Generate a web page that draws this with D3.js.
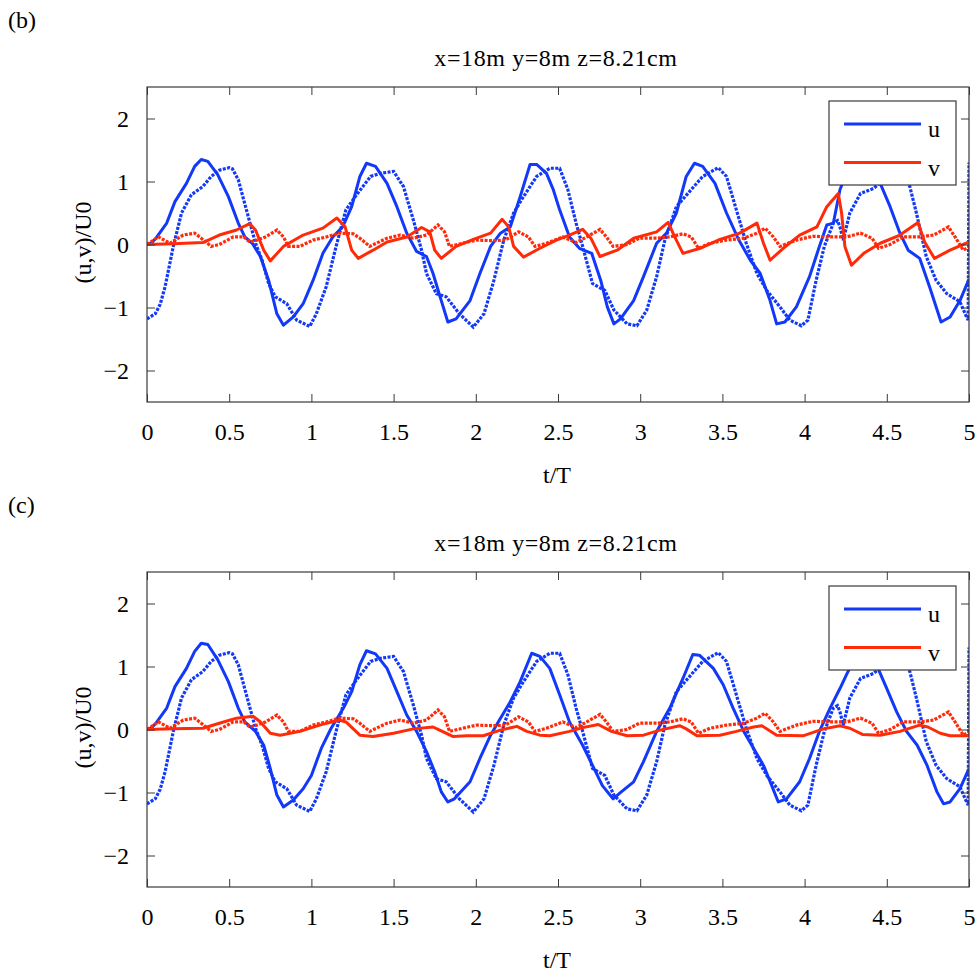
<!DOCTYPE html>
<html>
<head>
<meta charset="utf-8">
<script src="https://cdn.jsdelivr.net/npm/d3@7"></script>
<style>
  body { margin: 0; background: #fff; }
  svg { display: block; }
  text { font-family: "Liberation Serif", "Times New Roman", serif; fill: #000; }
</style>
</head>
<body>
<svg id="chart" width="977" height="972"></svg>
<script>
// ---------- data ----------
const panelLabels = ["(b)", "(c)"];
const panelTitles = ["x=18m y=8m z=8.21cm", "x=18m y=8m z=8.21cm"];
const xTicks = [0, 0.5, 1, 1.5, 2, 2.5, 3, 3.5, 4, 4.5, 5];
const xTickLabels = ["0", "0.5", "1", "1.5", "2", "2.5", "3", "3.5", "4", "4.5", "5"];
const yTicks = [-2, -1, 0, 1, 2];
const xLabel = "t/T";
const yLabel = "(u,v)/U0";
const legendNames = ["u", "v"];

// measured u (dotted, same in both panels) [t/T, u/U0]
const uMeasured = [[0,-1.18],[0.05,-1.10],[0.08,-0.95],[0.11,-0.67],[0.16,-0.03],[0.21,0.5],[0.27,0.79],[0.34,0.92],[0.39,1.08],[0.44,1.18],[0.5,1.22],[0.52,1.2],[0.555,1.03],[0.61,0.5],[0.66,0.02],[0.70,-0.25],[0.74,-0.62],[0.78,-0.83],[0.85,-0.94],[0.91,-1.2],[0.99,-1.30],[1.03,-1.10],[1.09,-0.67],[1.15,-0.03],[1.21,0.55],[1.275,0.79],[1.36,1.08],[1.42,1.13],[1.50,1.16],[1.56,0.92],[1.62,0.39],[1.67,-0.09],[1.70,-0.46],[1.76,-0.78],[1.82,-0.83],[1.90,-1.10],[1.985,-1.31],[2.05,-1.10],[2.11,-0.57],[2.17,0.07],[2.23,0.5],[2.29,0.76],[2.37,1.08],[2.45,1.21],[2.51,1.21],[2.56,0.87],[2.61,0.34],[2.65,-0.03],[2.71,-0.62],[2.785,-0.73],[2.84,-1.04],[2.92,-1.26],[2.98,-1.29],[3.04,-1.04],[3.10,-0.51],[3.15,0.07],[3.22,0.60],[3.30,0.84],[3.38,1.08],[3.475,1.22],[3.525,1.08],[3.585,0.55],[3.645,0.02],[3.71,-0.46],[3.77,-0.73],[3.85,-0.99],[3.91,-1.20],[3.98,-1.29],[4.02,-1.20],[4.07,-0.57],[4.12,-0.03],[4.175,0.34],[4.2,0.38],[4.215,0.28],[4.235,0.07],[4.275,0.5],[4.34,0.81],[4.42,0.89],[4.48,1.03],[4.55,1.18],[4.6,1.1],[4.64,0.92],[4.68,0.50],[4.74,-0.19],[4.80,-0.57],[4.865,-0.78],[4.945,-0.91],[4.985,-1.15],[4.995,-1.2],[5.0,1.3]];

// measured v (dotted, same in both panels)
const vMeasured = [[0,0],[0.07,0.12],[0.14,0.02],[0.22,0.15],[0.29,0.18],[0.33,0.10],[0.39,-0.03],[0.44,0],[0.525,0.12],[0.59,0.12],[0.625,0.04],[0.67,0.07],[0.72,0.12],[0.79,0.23],[0.83,0.12],[0.86,-0.03],[0.93,-0.03],[1.01,0.07],[1.09,0.12],[1.17,0.18],[1.255,0.17],[1.295,0.10],[1.355,-0.03],[1.46,0.10],[1.54,0.15],[1.62,0.10],[1.70,0.15],[1.77,0.31],[1.81,0.20],[1.84,-0.03],[1.92,0.02],[2.005,0.07],[2.105,0.06],[2.18,0.07],[2.26,0.20],[2.32,0.12],[2.36,-0.03],[2.43,0.02],[2.53,0.12],[2.61,0.03],[2.675,0.12],[2.755,0.24],[2.795,0.12],[2.835,-0.03],[2.92,0],[2.995,0.10],[3.10,0.10],[3.18,0.12],[3.26,0.17],[3.31,0.12],[3.355,-0.06],[3.425,0.02],[3.525,0.07],[3.63,0.10],[3.71,0.18],[3.76,0.26],[3.81,0.12],[3.85,-0.03],[3.95,0.07],[4.05,0.13],[4.155,0.12],[4.255,0.12],[4.34,0.18],[4.41,0.10],[4.45,-0.06],[4.52,0],[4.60,0.12],[4.70,0.12],[4.785,0.15],[4.875,0.28],[4.915,0.12],[4.965,-0.09],[5.0,-0.04]];

// model u, panel (b)
const uModelB = [[0,0],[0.03,0.03],[0.06,0.12],[0.12,0.34],[0.17,0.68],[0.24,0.97],[0.29,1.24],[0.33,1.35],[0.37,1.32],[0.43,1.11],[0.495,0.76],[0.555,0.34],[0.595,0.12],[0.64,0.02],[0.69,-0.19],[0.74,-0.57],[0.79,-1.10],[0.83,-1.28],[0.89,-1.15],[0.95,-0.94],[1.01,-0.57],[1.07,-0.14],[1.13,0.12],[1.19,0.28],[1.245,0.60],[1.295,1.08],[1.335,1.29],[1.39,1.24],[1.46,0.97],[1.52,0.60],[1.58,0.18],[1.64,-0.11],[1.70,-0.19],[1.74,-0.46],[1.79,-0.89],[1.83,-1.23],[1.88,-1.18],[1.965,-0.89],[2.025,-0.46],[2.09,-0.03],[2.15,0.18],[2.21,0.28],[2.27,0.76],[2.33,1.27],[2.37,1.27],[2.43,1.13],[2.47,0.88],[2.51,0.55],[2.57,0.12],[2.63,-0.06],[2.705,-0.14],[2.76,-0.57],[2.80,-0.99],[2.84,-1.26],[2.88,-1.18],[2.96,-0.89],[3.02,-0.51],[3.10,0.02],[3.16,0.18],[3.22,0.50],[3.28,1.08],[3.33,1.29],[3.38,1.24],[3.455,0.97],[3.525,0.50],[3.60,0.07],[3.67,-0.25],[3.73,-0.46],[3.79,-0.89],[3.83,-1.26],[3.88,-1.23],[3.95,-0.99],[4.03,-0.51],[4.09,-0.03],[4.135,0.31],[4.175,0.34],[4.215,0.87],[4.235,1.0],[4.28,1.22],[4.33,1.3],[4.38,1.2],[4.46,0.97],[4.52,0.60],[4.58,0.18],[4.63,-0.09],[4.70,-0.22],[4.76,-0.67],[4.83,-1.23],[4.885,-1.15],[4.945,-0.89],[5.0,-0.55]];

// model v, panel (b)
const vModelB = [[0,0],[0.16,0.01],[0.34,0.03],[0.44,0.15],[0.545,0.23],[0.625,0.33],[0.66,0.23],[0.71,-0.09],[0.75,-0.26],[0.83,-0.03],[0.95,0.15],[1.07,0.26],[1.155,0.42],[1.205,0.28],[1.245,-0.09],[1.285,-0.22],[1.375,-0.09],[1.46,0.04],[1.58,0.12],[1.67,0.27],[1.72,0.20],[1.75,-0.09],[1.79,-0.22],[1.88,-0.03],[1.985,0.08],[2.09,0.18],[2.16,0.40],[2.20,0.28],[2.23,-0.03],[2.29,-0.20],[2.39,-0.06],[2.49,0.07],[2.57,0.15],[2.65,0.24],[2.70,0.10],[2.755,-0.19],[2.86,-0.09],[2.96,0.10],[3.10,0.20],[3.17,0.35],[3.21,0.12],[3.26,-0.14],[3.365,-0.06],[3.485,0.08],[3.605,0.18],[3.71,0.34],[3.75,0.02],[3.79,-0.25],[3.87,-0.06],[3.97,0.15],[4.075,0.28],[4.135,0.60],[4.205,0.81],[4.225,0.50],[4.245,-0.03],[4.285,-0.33],[4.36,-0.14],[4.46,0.02],[4.58,0.15],[4.69,0.35],[4.73,0.04],[4.79,-0.22],[4.885,-0.09],[5.0,0.04]];

// model u, panel (c)
const uModelC = [[0,0],[0.03,0.03],[0.06,0.12],[0.12,0.34],[0.17,0.68],[0.24,0.97],[0.29,1.24],[0.33,1.37],[0.37,1.35],[0.43,1.11],[0.495,0.76],[0.555,0.34],[0.595,0.12],[0.66,-0.03],[0.71,-0.25],[0.75,-0.62],[0.79,-1.04],[0.83,-1.23],[0.89,-1.12],[0.95,-0.94],[1.00,-0.73],[1.06,-0.30],[1.12,0.02],[1.195,0.34],[1.245,0.60],[1.295,1.03],[1.335,1.25],[1.39,1.20],[1.46,0.97],[1.52,0.60],[1.58,0.23],[1.64,-0.03],[1.70,-0.35],[1.75,-0.67],[1.79,-0.99],[1.83,-1.15],[1.87,-1.10],[1.965,-0.83],[2.025,-0.46],[2.09,-0.09],[2.15,0.18],[2.21,0.44],[2.27,0.76],[2.34,1.21],[2.39,1.16],[2.45,0.97],[2.51,0.55],[2.57,0.12],[2.65,-0.25],[2.71,-0.57],[2.77,-0.89],[2.835,-1.10],[2.885,-0.99],[2.96,-0.83],[3.02,-0.51],[3.10,-0.03],[3.18,0.34],[3.26,0.81],[3.32,1.19],[3.36,1.18],[3.445,0.97],[3.505,0.71],[3.565,0.34],[3.63,-0.03],[3.69,-0.30],[3.75,-0.57],[3.80,-0.89],[3.84,-1.15],[3.89,-1.10],[3.97,-0.83],[4.03,-0.46],[4.09,-0.03],[4.155,0.34],[4.215,0.65],[4.255,0.87],[4.285,1.03],[4.34,1.2],[4.39,1.15],[4.45,0.95],[4.50,0.65],[4.56,0.28],[4.62,-0.03],[4.685,-0.25],[4.745,-0.57],[4.805,-0.99],[4.845,-1.18],[4.885,-1.15],[4.945,-0.94],[5.0,-0.62]];

// model v, panel (c)
const vModelC = [[0,0],[0.16,0.01],[0.34,0.02],[0.44,0.10],[0.545,0.18],[0.645,0.21],[0.69,0.12],[0.75,-0.06],[0.81,-0.09],[0.93,-0.03],[1.05,0.07],[1.17,0.15],[1.21,0.12],[1.295,-0.09],[1.375,-0.11],[1.50,-0.06],[1.62,0.01],[1.74,0.04],[1.78,-0.01],[1.86,-0.11],[1.945,-0.10],[2.045,-0.10],[2.15,-0.01],[2.25,0.05],[2.31,-0.03],[2.39,-0.09],[2.45,-0.10],[2.57,-0.03],[2.65,0.03],[2.745,0.08],[2.825,-0.03],[2.92,-0.10],[3.02,-0.09],[3.12,-0.01],[3.24,0.06],[3.28,0.01],[3.345,-0.10],[3.485,-0.09],[3.585,-0.03],[3.69,0.04],[3.74,0.06],[3.83,-0.09],[3.99,-0.10],[4.115,0.01],[4.215,0.06],[4.275,0.02],[4.355,-0.08],[4.46,-0.09],[4.58,-0.03],[4.70,0.07],[4.75,0.04],[4.825,-0.06],[4.885,-0.10],[5.0,-0.10]];

const panels = [
  { label: panelLabels[0], title: panelTitles[0], uModel: uModelB, vModel: vModelB },
  { label: panelLabels[1], title: panelTitles[1], uModel: uModelC, vModel: vModelC }
];

// ---------- layout ----------
const BLUE = "#1238f8";
const RED = "#ff2a08";
const AXIS = "#3a3a3a";
const plotLeft = 147, plotRight = 969, plotH = 315;
const panelTop = [87, 572];
const FS = 24;

const svg = d3.select("#chart");

const x = d3.scaleLinear().domain([0, 5]).range([plotLeft, plotRight]);

panels.forEach((p, i) => {
  const top = panelTop[i];
  const y = d3.scaleLinear().domain([-2.5, 2.5]).range([top + plotH, top]);
  const g = svg.append("g");

  // clip
  const clipId = "clip" + i;
  svg.append("clipPath").attr("id", clipId)
    .append("rect").attr("x", plotLeft).attr("y", top)
    .attr("width", plotRight - plotLeft).attr("height", plotH);

  // panel label & title
  g.append("text").attr("x", 8).attr("y", top - 59).attr("font-size", FS).text(p.label);
  g.append("text").attr("x", (plotLeft + plotRight) / 2 - 2).attr("y", top - 21)
    .attr("font-size", FS).attr("letter-spacing", 0.6).attr("text-anchor", "middle").text(p.title);

  // lines
  const line = d3.line().x(d => x(d[0])).y(d => y(d[1]));
  const lg = g.append("g").attr("clip-path", `url(#${clipId})`);
  lg.append("path").datum(p.uModel).attr("d", line)
    .attr("fill", "none").attr("stroke", BLUE).attr("stroke-width", 3).attr("stroke-linejoin", "round");
  lg.append("path").datum(uMeasured).attr("d", line)
    .attr("fill", "none").attr("stroke", BLUE).attr("stroke-width", 3.2).attr("stroke-dasharray", "3,1.4");
  lg.append("path").datum(p.vModel).attr("d", line)
    .attr("fill", "none").attr("stroke", RED).attr("stroke-width", 3).attr("stroke-linejoin", "round");
  lg.append("path").datum(vMeasured).attr("d", line)
    .attr("fill", "none").attr("stroke", RED).attr("stroke-width", 3.2).attr("stroke-dasharray", "3,1.4");

  // axes (inward ticks, MATLAB-style box)
  const tickLen = 8;
  const xb = g.append("g").attr("transform", `translate(0,${top + plotH})`)
    .call(d3.axisBottom(x).tickValues(xTicks).tickSizeInner(-tickLen).tickSizeOuter(0)
      .tickPadding(tickLen + 13).tickFormat((d, k) => xTickLabels[k]));
  const xt = g.append("g").attr("transform", `translate(0,${top})`)
    .call(d3.axisTop(x).tickValues(xTicks).tickSizeInner(-tickLen).tickSizeOuter(0).tickFormat(""));
  const yl = g.append("g").attr("transform", `translate(${plotLeft},0)`)
    .call(d3.axisLeft(y).tickValues(yTicks).tickSizeInner(-tickLen).tickSizeOuter(0)
      .tickPadding(tickLen + 10).tickFormat(d3.format("d")));
  const yr = g.append("g").attr("transform", `translate(${plotRight},0)`)
    .call(d3.axisRight(y).tickValues(yTicks).tickSizeInner(-tickLen).tickSizeOuter(0).tickFormat(""));
  [xb, xt, yl, yr].forEach(a => {
    a.select(".domain").remove();
    a.selectAll(".tick line").attr("stroke", AXIS).attr("stroke-width", 1);
    a.selectAll("text").attr("font-family", "Liberation Serif, Times New Roman, serif")
      .attr("font-size", FS).attr("fill", "#000");
  });
  g.append("rect").attr("x", plotLeft).attr("y", top).attr("width", plotRight - plotLeft)
    .attr("height", plotH).attr("fill", "none").attr("stroke", AXIS).attr("stroke-width", 1.2);

  // axis labels
  g.append("text").attr("x", (plotLeft + plotRight) / 2 - 1).attr("y", top + plotH + 81)
    .attr("font-size", FS).attr("text-anchor", "middle").text(xLabel);
  g.append("text").attr("transform", `translate(91,${top + plotH / 2 - 2}) rotate(-90)`)
    .attr("font-size", FS).attr("text-anchor", "middle").text(yLabel);

  // legend
  const lx = 829, ly = top + 14, lw = 127, lh = 84;
  const leg = g.append("g");
  leg.append("rect").attr("x", lx).attr("y", ly).attr("width", lw).attr("height", lh)
    .attr("fill", "#fff").attr("stroke", AXIS).attr("stroke-width", 1.2);
  [BLUE, RED].forEach((c, k) => {
    const yy = ly + 23 + k * 38.5;
    leg.append("line").attr("x1", lx + 15).attr("x2", lx + 92).attr("y1", yy).attr("y2", yy)
      .attr("stroke", c).attr("stroke-width", 3);
    leg.append("text").attr("x", lx + 99).attr("y", yy + 13).attr("font-size", FS).text(legendNames[k]);
  });
});
</script>
</body>
</html>
